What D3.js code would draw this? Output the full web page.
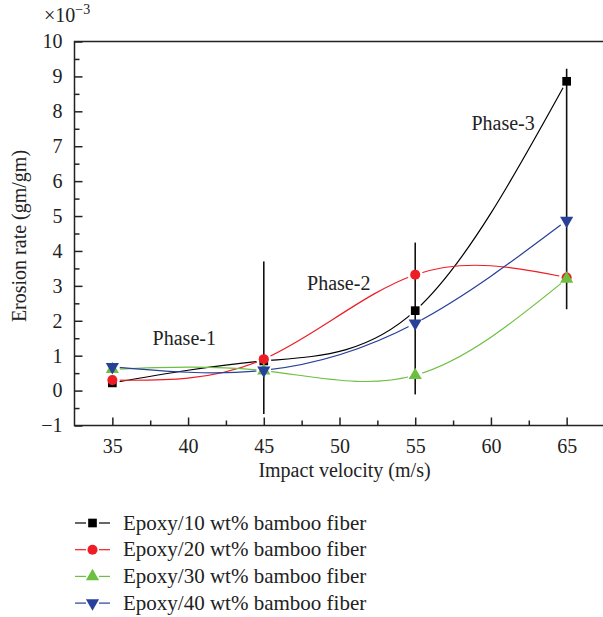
<!DOCTYPE html>
<html><head><meta charset="utf-8">
<script src="https://cdn.jsdelivr.net/npm/d3@7"></script>
<style>body{margin:0;background:#fff}svg{display:block}svg text{font-family:"Liberation Serif","Times New Roman",serif;fill:#222}</style>
</head><body><svg id="c" width="603" height="617"></svg>
<script>
const velocities = [35, 45, 55, 65];
const seriesNames = ["Epoxy/10 wt% bamboo fiber","Epoxy/20 wt% bamboo fiber","Epoxy/30 wt% bamboo fiber","Epoxy/40 wt% bamboo fiber"];
const wt10 = [0.22, 0.85, 2.29, 8.86];
const wt20 = [0.30, 0.90, 3.32, 3.24];
const wt30 = [0.61, 0.57, 0.44, 3.20];
const wt40 = [0.68, 0.58, 1.93, 4.87];
const errLow = [null, -0.67, -0.11, 2.33];
const errHigh = [null, 3.70, 4.24, 9.22];
const xTicks = [35, 40, 45, 50, 55, 60, 65];
const yTicks = [-1, 0, 1, 2, 3, 4, 5, 6, 7, 8, 9, 10];
const phaseLabels = [{t:"Phase-1", x:39.75, y:1.30},{t:"Phase-2", x:49.95, y:2.88},{t:"Phase-3", x:60.8, y:7.46}];

const colors = ["#000000","#ee1d25","#6cbf3f","#27409a"];
const shapes = [d3.symbolSquare, d3.symbolCircle, d3.symbolTriangle, d3.symbolTriangle];
const rot = [0,0,0,180];
const sizes = [75, 80, 75, 75];
const FS = 20;

const svg = d3.select("#c");
const x = d3.scaleLinear().domain([32.5, 67.5]).range([74.5, 604.5]);
const y = d3.scaleLinear().domain([-1, 10]).range([425.5, 41.5]);

// frame
svg.append("rect").attr("x",74.5).attr("y",41.5).attr("width",640).attr("height",384).attr("fill","none").attr("stroke","#222").attr("stroke-width",1.5);

// axes (inward ticks)
const gx = svg.append("g").attr("transform","translate(0,425.5)");
gx.call(d3.axisBottom(x).tickValues(xTicks).tickSize(-8).tickPadding(13).tickFormat(d3.format("d")));
const gxm = svg.append("g").attr("transform","translate(0,425.5)");
gxm.call(d3.axisBottom(x).tickValues([37.5,42.5,47.5,52.5,57.5,62.5]).tickSize(-5).tickFormat(""));
const gy = svg.append("g").attr("transform","translate(74.5,0)");
gy.call(d3.axisLeft(y).tickValues(yTicks).tickSize(-8).tickPadding(12).tickFormat(d=>d<0?"\u2212"+Math.abs(d):d));
const gym = svg.append("g").attr("transform","translate(74.5,0)");
gym.call(d3.axisLeft(y).tickValues(d3.range(-0.5,10,1)).tickSize(-5).tickFormat(""));
svg.selectAll(".domain").remove();
svg.selectAll("g").attr("font-family",null).attr("font-size",null);
svg.selectAll(".tick line").attr("stroke","#222").attr("stroke-width",1.5);
svg.selectAll(".tick text").attr("font-size",FS).attr("fill","#222");

// axis titles
svg.append("text").attr("x",344.5).attr("y",477).attr("text-anchor","middle").attr("font-size",FS).text("Impact velocity (m/s)");
svg.append("text").attr("transform","translate(26,236) rotate(-90)").attr("text-anchor","middle").attr("font-size",FS).text("Erosion rate (gm/gm)");
const mult = svg.append("text").attr("x",44).attr("y",22).attr("font-size",FS);
mult.append("tspan").text("\u00d710");
mult.append("tspan").attr("dy",-8).attr("font-size",14).text("\u22123");

// error bars
const eb = velocities.map((v,i)=>({v, lo:errLow[i], hi:errHigh[i]})).filter(d=>d.lo!==null);
svg.selectAll(".eb").data(eb).join("line").attr("x1",d=>x(d.v)).attr("x2",d=>x(d.v)).attr("y1",d=>y(d.lo)).attr("y2",d=>y(d.hi)).attr("stroke","#111").attr("stroke-width",1.6);

// series with gaps around own markers
const all = [wt10, wt20, wt30, wt40];
const line = d3.line().x(d=>x(d[0])).y(d=>y(d[1])).curve(d3.curveNatural);
const defs = svg.append("defs");
all.forEach((vals,si)=>{
  const pts = velocities.map((v,i)=>[v, vals[i]]);
  const m = defs.append("mask").attr("id","m"+si).attr("maskUnits","userSpaceOnUse").attr("x",0).attr("y",0).attr("width",603).attr("height",617);
  m.append("rect").attr("width",603).attr("height",617).attr("fill","#fff");
  m.selectAll("circle").data(pts).join("circle").attr("cx",d=>x(d[0])).attr("cy",d=>y(d[1])).attr("r",7.5).attr("fill","#000");
  svg.append("path").attr("d", line(pts)).attr("fill","none").attr("stroke",colors[si]).attr("stroke-width",1.2).attr("mask","url(#m"+si+")");
});
all.forEach((vals,si)=>{
  const pts = velocities.map((v,i)=>[v, vals[i]]);
  svg.selectAll(null).data(pts).join("path")
    .attr("d", d3.symbol().type(shapes[si]).size(sizes[si]))
    .attr("transform", d=>`translate(${x(d[0])},${y(d[1])}) rotate(${rot[si]})`)
    .attr("fill", colors[si]);
});

// phase labels
phaseLabels.forEach(p=>svg.append("text").attr("x",x(p.x)).attr("y",y(p.y)).attr("text-anchor","middle").attr("font-size",FS).text(p.t));

// legend
seriesNames.forEach((n,si)=>{
  const ly = 523 + si*26.7;
  svg.append("line").attr("x1",75).attr("x2",86).attr("y1",ly).attr("y2",ly).attr("stroke",colors[si]).attr("stroke-width",1.2);
  svg.append("line").attr("x1",99).attr("x2",110).attr("y1",ly).attr("y2",ly).attr("stroke",colors[si]).attr("stroke-width",1.2);
  svg.append("path").attr("d", d3.symbol().type(shapes[si]).size(sizes[si])).attr("transform",`translate(92.5,${ly}) rotate(${rot[si]})`).attr("fill",colors[si]);
  svg.append("text").attr("x",123).attr("y",ly+6.5).attr("font-size",21).text(n);
});
</script></body></html>
